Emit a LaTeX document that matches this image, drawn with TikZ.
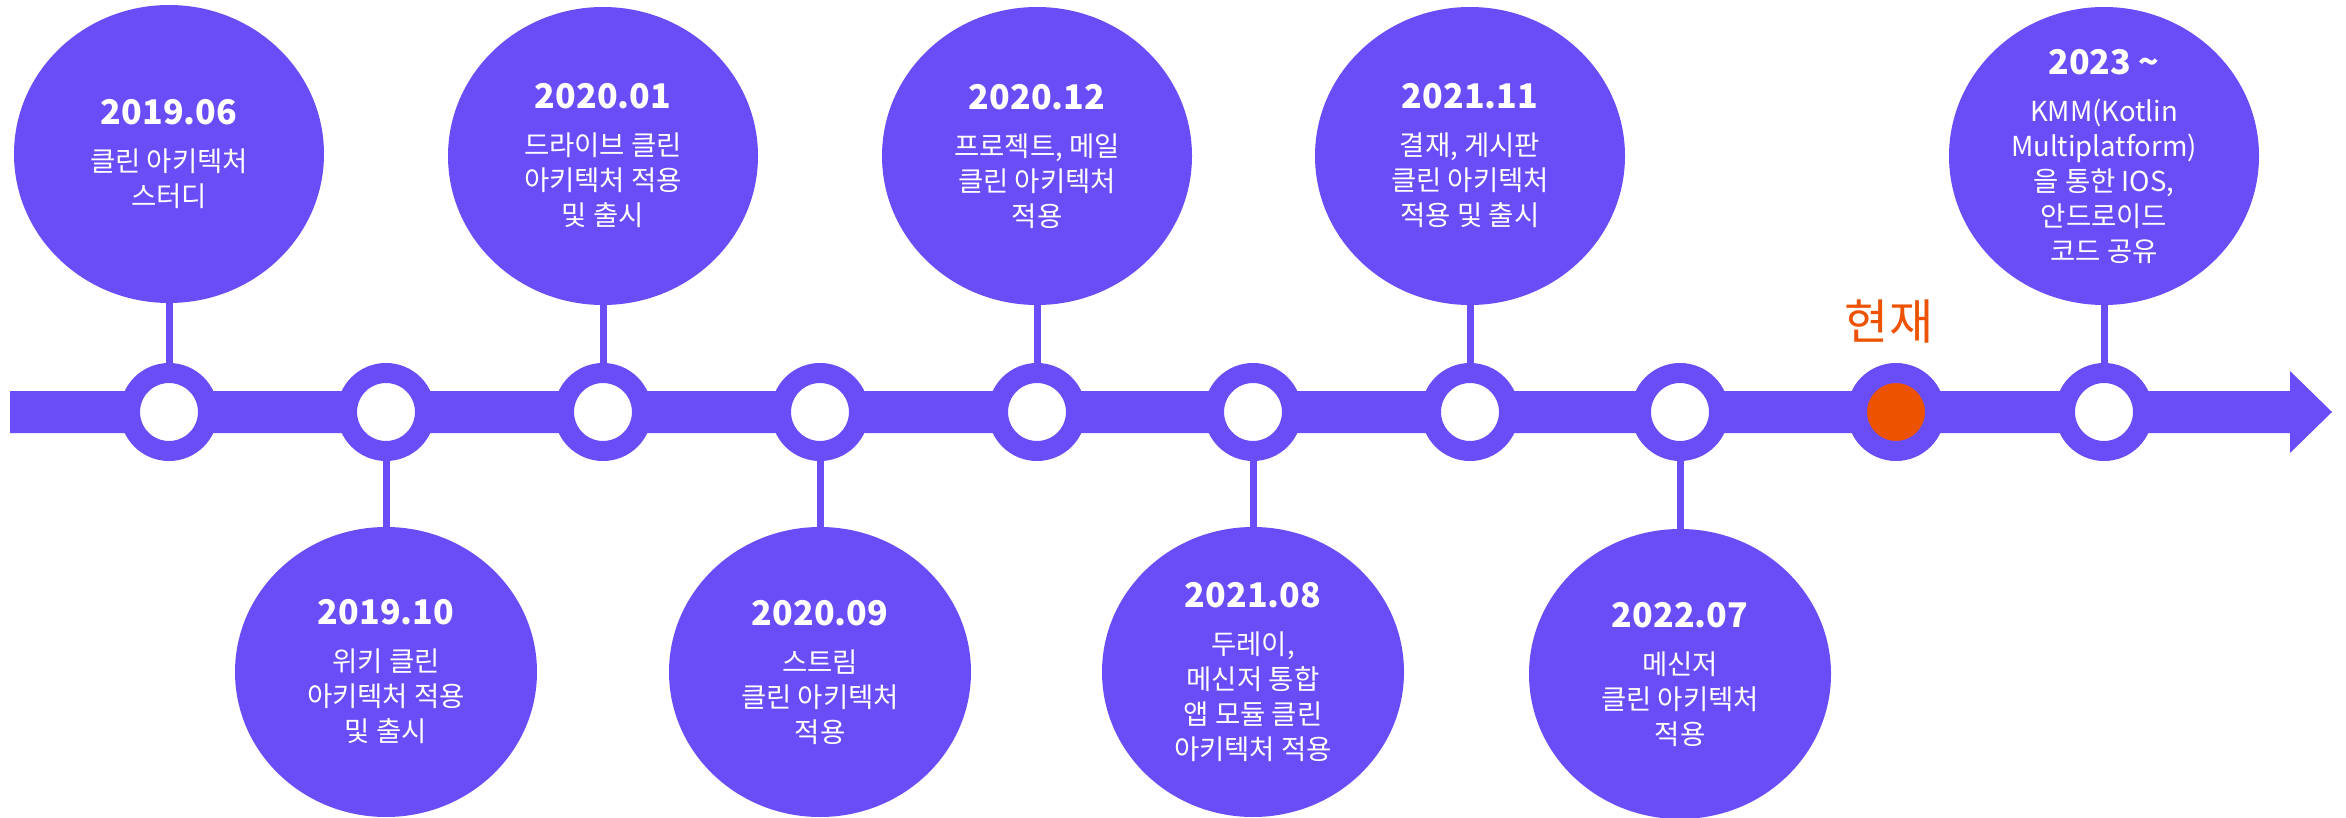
\documentclass[tikz,border=0pt]{standalone}
\usepackage{fontspec}
\setmainfont{Noto Sans CJK KR}
\usetikzlibrary{shapes.geometric}
\definecolor{tlpurple}{RGB}{107,77,248}
\definecolor{tlorange}{RGB}{236,82,0}
\newcommand\evdate[1]{{\fontsize{34}{40}\selectfont\bfseries #1}}
\begin{document}
\begin{tikzpicture}[x=1pt,y=-1pt,
  event/.style={ellipse, fill=tlpurple, inner sep=0pt, outer sep=0pt},
  topev/.style={event, minimum width=310pt, minimum height=298pt},
  botev/.style={event, minimum width=302pt, minimum height=290pt},
  marker/.style={circle, draw=tlpurple, line width=20pt, fill=white, minimum size=78pt, inner sep=0pt},
  nowmarker/.style={marker, fill=tlorange},
  stem/.style={draw=tlpurple, line width=7pt},
  txt/.style={text=white, align=center, font=\fontsize{27.5}{35}\selectfont, inner sep=0pt},
]
\useasboundingbox (0,0) rectangle (2346,818);

% timeline bar with arrow head
\fill[tlpurple] (10,391) -- (2290,391) -- (2290,371) -- (2332,412) -- (2290,453) -- (2290,433) -- (10,433) -- cycle;

% markers
\node[marker] (m1) at (169,412) {};
\node[marker] (m2) at (386,412) {};
\node[marker] (m3) at (603,412) {};
\node[marker] (m4) at (820,412) {};
\node[marker] (m5) at (1037,412) {};
\node[marker] (m6) at (1253,412) {};
\node[marker] (m7) at (1470,412) {};
\node[marker] (m8) at (1680,412) {};
\node[nowmarker] (mnow) at (1896,412) {};
\node[marker] (m9) at (2104,412) {};

% event circles
\node[topev] (e1) at (169,154) {};
\node[botev] (e2) at (386,672) {};
\node[topev] (e3) at (603,156) {};
\node[botev] (e4) at (820,672) {};
\node[topev] (e5) at (1037,156) {};
\node[botev] (e6) at (1253,672) {};
\node[topev] (e7) at (1470,156) {};
\node[botev] (e8) at (1680,674) {};
\node[topev] (e9) at (2104,156) {};

% stems
\draw[stem] (m1) -- (e1);
\draw[stem] (m2) -- (e2);
\draw[stem] (m3) -- (e3);
\draw[stem] (m4) -- (e4);
\draw[stem] (m5) -- (e5);
\draw[stem] (m6) -- (e6);
\draw[stem] (m7) -- (e7);
\draw[stem] (m8) -- (e8);
\draw[stem] (m9) -- (e9);

% texts
\node[txt] (t1) at (e1) {\evdate{2019.06}\\[12pt]클린 아키텍처\\스터디};
\node[txt] (t2) at (e2) {\evdate{2019.10}\\[12pt]위키 클린\\아키텍처 적용\\및 출시};
\node[txt] (t3) at (e3) {\evdate{2020.01}\\[12pt]드라이브 클린\\아키텍처 적용\\및 출시};
\node[txt] (t4) at (e4) {\evdate{2020.09}\\[12pt]스트림\\클린 아키텍처\\적용};
\node[txt] (t5) at (e5) {\evdate{2020.12}\\[12pt]프로젝트, 메일\\클린 아키텍처\\적용};
\node[txt] (t6) at (e6) {\evdate{2021.08}\\[12pt]두레이,\\메신저 통합\\앱 모듈 클린\\아키텍처 적용};
\node[txt] (t7) at (e7) {\evdate{2021.11}\\[12pt]결재, 게시판\\클린 아키텍처\\적용 및 출시};
\node[txt] (t8) at (e8) {\evdate{2022.07}\\[12pt]메신저\\클린 아키텍처\\적용};
\node[txt] (t9) at (e9) {\evdate{2023 \char`\~}\\[12pt]KMM(Kotlin\\Multiplatform)\\을 통한 IOS,\\안드로이드\\코드 공유};

\node[text=tlorange, font=\fontsize{48}{48}\selectfont, inner sep=0pt] (nowlbl) at (1889,322) {현재};
\end{tikzpicture}
\end{document}
